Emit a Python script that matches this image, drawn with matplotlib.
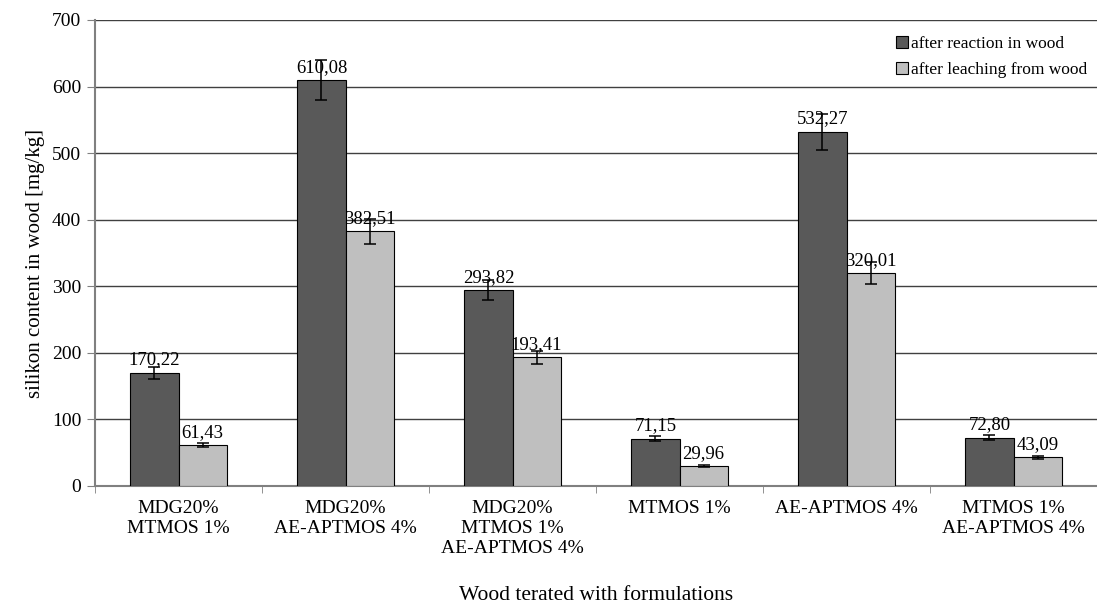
import matplotlib
matplotlib.use("Agg")
import matplotlib.pyplot as plt
import numpy as np

categories = ["MDG20%\nMTMOS 1%", "MDG20%\nAE-APTMOS 4%", "MDG20%\nMTMOS 1%\nAE-APTMOS 4%",
              "MTMOS 1%", "AE-APTMOS 4%", "MTMOS 1%\nAE-APTMOS 4%"]
series_names = ["after reaction in wood", "after leaching from wood"]
reaction = [170.22, 610.08, 293.82, 71.15, 532.27, 72.80]
leaching = [61.43, 382.51, 193.41, 29.96, 320.01, 43.09]
reaction_err = [9, 30, 15, 4, 27, 4]
leaching_err = [3, 19, 10, 2, 16, 2]
yticks = [0, 100, 200, 300, 400, 500, 600, 700]

plt.rcParams['font.family'] = ['Liberation Serif', 'DejaVu Serif']

fig = plt.figure(figsize=(10.97, 6.04), dpi=100)
ax = fig.add_axes([95/1097, 1-486/604, 1-95/1097, 466/604])

x = np.arange(len(categories))
w = 0.288
dark = "#595959"
light = "#bfbfbf"
ax.bar(x - w/2, reaction, w, color=dark, edgecolor="black", linewidth=0.8,
       label=series_names[0], zorder=3)
ax.bar(x + w/2, leaching, w, color=light, edgecolor="black", linewidth=0.8,
       label=series_names[1], zorder=3)
ax.errorbar(x - w/2, reaction, yerr=reaction_err, fmt='none', ecolor='black',
            elinewidth=1.1, capsize=4, capthick=1.1, zorder=4)
ax.errorbar(x + w/2, leaching, yerr=leaching_err, fmt='none', ecolor='black',
            elinewidth=1.1, capsize=4, capthick=1.1, zorder=4)

for xs, vals in ((x - w/2, reaction), (x + w/2, leaching)):
    for xi, v in zip(xs, vals):
        ax.annotate(f"{v:.2f}".replace(".", ","), (xi, v), xytext=(0, 3),
                    textcoords="offset points", ha="center", va="bottom",
                    fontsize=13.5, zorder=5)

ax.set_xlim(-0.5, len(categories) - 0.5)
ax.set_ylim(0, 700)
ax.set_yticks(yticks)
ax.yaxis.grid(True, color="#404040", linewidth=1.0, zorder=0)
ax.set_axisbelow(True)
ax.set_xticks(x)
ax.set_xticklabels(categories, fontsize=14, linespacing=1.22)
ax.tick_params(axis='x', length=0, pad=10)
ax.set_xticks(np.arange(-0.5, len(categories)), minor=True)
ax.tick_params(axis='x', which='minor', length=5, color="#808080")
ax.tick_params(axis='y', length=6, color="#808080", labelsize=14, pad=4)

for s in ["top", "right"]:
    ax.spines[s].set_visible(False)
ax.spines["left"].set_color("#808080")
ax.spines["left"].set_linewidth(1.5)
ax.spines["bottom"].set_color("#808080")
ax.spines["bottom"].set_linewidth(1.5)

fig.text(36/1097, 1-263/604, "silikon content in wood [mg/kg]", rotation=90,
         ha="center", va="center", fontsize=15)
fig.text(596/1097, 1-600/604, "Wood terated with formulations", ha="center",
         va="baseline", fontsize=15.5)

ax.legend(loc="upper right", bbox_to_anchor=(1.006, 1.0), frameon=False, fontsize=12.5,
          handlelength=0.7, handleheight=0.7, handletextpad=0.2, labelspacing=0.6)

fig.savefig("out.png", dpi=100)
